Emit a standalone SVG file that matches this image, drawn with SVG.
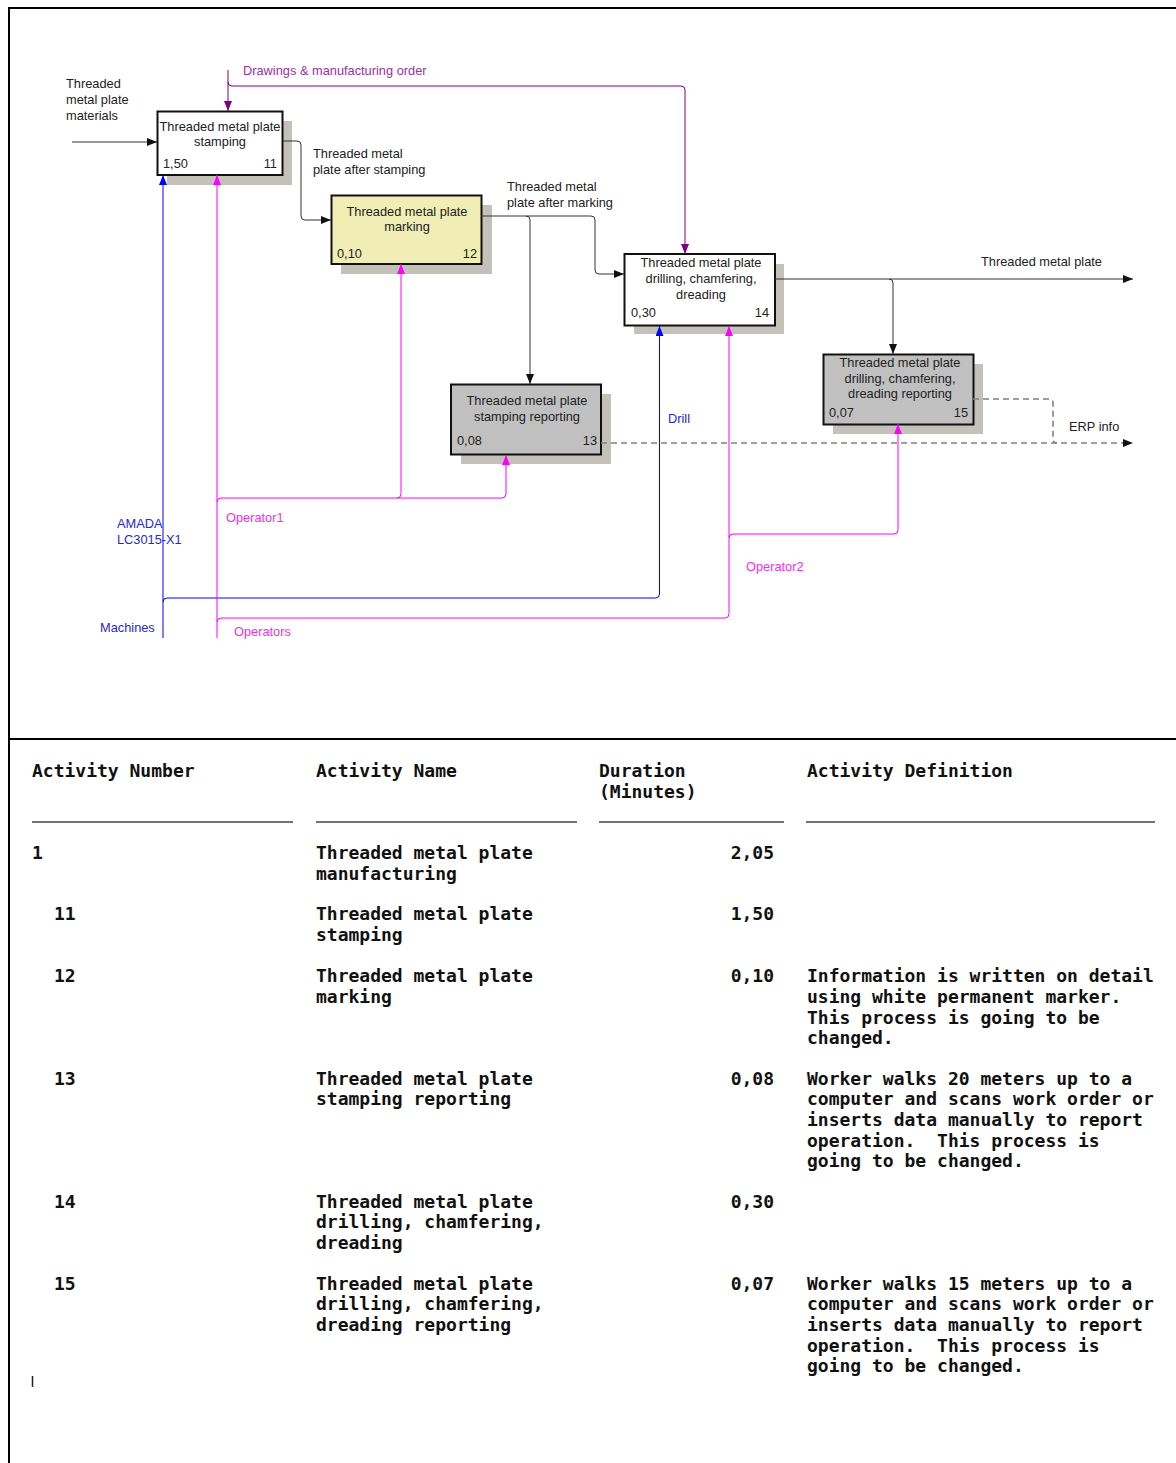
<svg xmlns="http://www.w3.org/2000/svg" width="1176" height="1463" viewBox="0 0 1176 1463">
  <style>
    .lbl { font-family: "Liberation Sans", Arial, sans-serif; font-size: 12.8px; fill: #222; }
    .mid { text-anchor: middle; }
    .end { text-anchor: end; }
    .purple { fill: #993399; }
    .blue { fill: #2828d0; }
    .mag { fill: #f030f0; }
    .box { stroke: #111; stroke-width: 2; }
    .shadow { fill: #c4c0ba; }
    .flow { fill: none; stroke: #333; stroke-width: 1; }
    .ctl { fill: none; stroke: #800080; stroke-width: 1; }
    .mech { fill: none; stroke: #0000ff; stroke-width: 1; }
    .op { fill: none; stroke: #ff00ff; stroke-width: 1; }
    .dash { fill: none; stroke: #808080; stroke-width: 1.6; stroke-dasharray: 6 4; }
    .tbl { font-family: "DejaVu Sans Mono", "Liberation Mono", monospace; font-weight: bold; font-size: 18px; fill: #111; }
    .rule { stroke: #444; stroke-width: 1.6; }
  </style>
  <defs>
    <marker id="arBlack" markerUnits="userSpaceOnUse" markerWidth="10" markerHeight="8" refX="10" refY="4" orient="auto"><path d="M0,0 L10,4 L0,8 z" fill="#111"/></marker>
    <marker id="arPurple" markerUnits="userSpaceOnUse" markerWidth="10" markerHeight="8" refX="10" refY="4" orient="auto"><path d="M0,0 L10,4 L0,8 z" fill="#800080"/></marker>
    <marker id="arBlue" markerUnits="userSpaceOnUse" markerWidth="10" markerHeight="8" refX="10" refY="4" orient="auto"><path d="M0,0 L10,4 L0,8 z" fill="#0000ff"/></marker>
    <marker id="arMag" markerUnits="userSpaceOnUse" markerWidth="10" markerHeight="8" refX="10" refY="4" orient="auto"><path d="M0,0 L10,4 L0,8 z" fill="#ff00ff"/></marker>
  </defs>

  <rect width="1176" height="1463" fill="#fff"/>

  <!-- page frame and separator -->
  <g id="frame" stroke="#000" stroke-width="2" fill="none">
    <path d="M9,1463 V8 H1176"/>
    <path d="M9,739 H1176"/>
  </g>

  <!-- activity 11 -->
  <g id="a11">
    <rect class="shadow" x="167" y="121" width="125" height="64"/>
    <rect class="box" x="157.5" y="111.5" width="125" height="63.5" fill="#fff"/>
    <text class="lbl mid" x="220" y="131">Threaded metal plate</text>
    <text class="lbl mid" x="220" y="146">stamping</text>
    <text class="lbl" x="163" y="168">1,50</text>
    <text class="lbl end" x="277" y="168">11</text>
  </g>

  <!-- activity 12 -->
  <g id="a12">
    <rect class="shadow" x="341" y="205" width="151" height="69"/>
    <rect class="box" x="331.5" y="195.5" width="150" height="68.5" fill="#f0eeb4"/>
    <text class="lbl mid" x="407" y="216">Threaded metal plate</text>
    <text class="lbl mid" x="407" y="231">marking</text>
    <text class="lbl" x="337" y="258">0,10</text>
    <text class="lbl end" x="477" y="258">12</text>
  </g>

  <!-- activity 14 -->
  <g id="a14">
    <rect class="shadow" x="634" y="264" width="150" height="70"/>
    <rect class="box" x="624.5" y="254" width="150.5" height="71.5" fill="#fff"/>
    <text class="lbl mid" x="701" y="267">Threaded metal plate</text>
    <text class="lbl mid" x="701" y="283">drilling, chamfering,</text>
    <text class="lbl mid" x="701" y="299">dreading</text>
    <text class="lbl" x="631" y="317">0,30</text>
    <text class="lbl end" x="769" y="317">14</text>
  </g>

  <!-- activity 13 -->
  <g id="a13">
    <rect class="shadow" x="461" y="394" width="150" height="70"/>
    <rect class="box" x="451" y="384.5" width="150" height="70" fill="#c0c0c0"/>
    <text class="lbl mid" x="527" y="405">Threaded metal plate</text>
    <text class="lbl mid" x="527" y="421">stamping reporting</text>
    <text class="lbl" x="457" y="445">0,08</text>
    <text class="lbl end" x="597" y="445">13</text>
  </g>

  <!-- activity 15 -->
  <g id="a15">
    <rect class="shadow" x="833" y="364" width="150" height="70"/>
    <rect class="box" x="823.5" y="354.5" width="150" height="70" fill="#c0c0c0"/>
    <text class="lbl mid" x="900" y="367">Threaded metal plate</text>
    <text class="lbl mid" x="900" y="383">drilling, chamfering,</text>
    <text class="lbl mid" x="900" y="398">dreading reporting</text>
    <text class="lbl" x="829" y="417">0,07</text>
    <text class="lbl end" x="968" y="417">15</text>
  </g>

  <!-- connectors (drawn over the box shadows) -->
  <g id="connectors">
    <!-- input -->
    <path class="flow" d="M72,142 H157" marker-end="url(#arBlack)"/>
    <!-- controls -->
    <path class="ctl" d="M228,70 V111" marker-end="url(#arPurple)"/>
    <path class="ctl" d="M228,82 Q228,86 232,86 H681 Q685,86 685,90 V254" marker-end="url(#arPurple)"/>
    <!-- outputs -->
    <path class="flow" d="M283,141 H297 Q301,141 301,145 V216 Q301,220 305,220 H331" marker-end="url(#arBlack)"/>
    <path class="flow" d="M481,216 H591 Q595,216 595,220 V270 Q595,274 599,274 H624" marker-end="url(#arBlack)"/>
    <path class="flow" d="M526,216 Q530,216 530,220 V384" marker-end="url(#arBlack)"/>
    <path class="flow" d="M775,279 H1133" marker-end="url(#arBlack)"/>
    <path class="flow" d="M889,279 Q893,279 893,283 V354" marker-end="url(#arBlack)"/>
    <path class="dash" d="M601,443 H1125"/>
    <path class="dash" d="M973,399 H1049 Q1053,399 1053,403 V439 Q1053,443 1057,443"/>
    <path d="M1123,439 L1133,443 L1123,447 z" fill="#111"/>
    <!-- mechanisms: machines -->
    <path class="mech" d="M163,638 V175" marker-end="url(#arBlue)"/>
    <path class="mech" d="M163,602 Q163,598 167,598 H655.5 Q659.5,598 659.5,594 V326" marker-end="url(#arBlue)"/>
    <!-- mechanisms: operators -->
    <path class="op" d="M217,638 V175" marker-end="url(#arMag)"/>
    <path class="op" d="M217,502 Q217,498 221,498 H502 Q506,498 506,494 V455" marker-end="url(#arMag)"/>
    <path class="op" d="M397,498 Q401,498 401,494 V264" marker-end="url(#arMag)"/>
    <path class="op" d="M217,622 Q217,618 221,618 H725 Q729,618 729,614 V326" marker-end="url(#arMag)"/>
    <path class="op" d="M729,538 Q729,534 733,534 H894 Q898,534 898,530 V424" marker-end="url(#arMag)"/>
  </g>

  <!-- connector labels -->
  <g id="labels">
    <text class="lbl" x="66" y="88">Threaded</text>
    <text class="lbl" x="66" y="104">metal plate</text>
    <text class="lbl" x="66" y="120">materials</text>
    <text class="lbl purple" x="243" y="75">Drawings &amp; manufacturing order</text>
    <text class="lbl" x="313" y="158">Threaded metal</text>
    <text class="lbl" x="313" y="174">plate after stamping</text>
    <text class="lbl" x="507" y="191">Threaded metal</text>
    <text class="lbl" x="507" y="207">plate after marking</text>
    <text class="lbl" x="981" y="266">Threaded metal plate</text>
    <text class="lbl" x="1069" y="431">ERP info</text>
    <text class="lbl blue" x="668" y="423">Drill</text>
    <text class="lbl blue" x="117" y="528">AMADA</text>
    <text class="lbl blue" x="117" y="544">LC3015-X1</text>
    <text class="lbl blue" x="100" y="632">Machines</text>
    <text class="lbl mag" x="226" y="522">Operator1</text>
    <text class="lbl mag" x="746" y="571">Operator2</text>
    <text class="lbl mag" x="234" y="636">Operators</text>
  </g>

  <!-- activity table -->
  <g id="table">
    <text class="tbl" x="32" y="777">Activity Number</text>
    <text class="tbl" x="316" y="777">Activity Name</text>
    <text class="tbl" x="599" y="777">Duration</text>
    <text class="tbl" x="599" y="798">(Minutes)</text>
    <text class="tbl" x="807" y="777">Activity Definition</text>
    <line class="rule" x1="32" y1="822" x2="293" y2="822"/>
    <line class="rule" x1="316" y1="822" x2="577" y2="822"/>
    <line class="rule" x1="599" y1="822" x2="784" y2="822"/>
    <line class="rule" x1="806" y1="822" x2="1155" y2="822"/>

    <text class="tbl" x="32" y="859">1</text>
    <text class="tbl" x="316" y="859">Threaded metal plate</text>
    <text class="tbl" x="316" y="880">manufacturing</text>
    <text class="tbl end" x="774" y="859">2,05</text>

    <text class="tbl" x="54" y="920">11</text>
    <text class="tbl" x="316" y="920">Threaded metal plate</text>
    <text class="tbl" x="316" y="941">stamping</text>
    <text class="tbl end" x="774" y="920">1,50</text>

    <text class="tbl" x="54" y="982">12</text>
    <text class="tbl" x="316" y="982">Threaded metal plate</text>
    <text class="tbl" x="316" y="1003">marking</text>
    <text class="tbl end" x="774" y="982">0,10</text>
    <text class="tbl" x="807" y="982">Information is written on detail</text>
    <text class="tbl" x="807" y="1003">using white permanent marker.</text>
    <text class="tbl" x="807" y="1024">This process is going to be</text>
    <text class="tbl" x="807" y="1044">changed.</text>

    <text class="tbl" x="54" y="1085">13</text>
    <text class="tbl" x="316" y="1085">Threaded metal plate</text>
    <text class="tbl" x="316" y="1105">stamping reporting</text>
    <text class="tbl end" x="774" y="1085">0,08</text>
    <text class="tbl" x="807" y="1085">Worker walks 20 meters up to a</text>
    <text class="tbl" x="807" y="1105">computer and scans work order or</text>
    <text class="tbl" x="807" y="1126">inserts data manually to report</text>
    <text class="tbl" x="807" y="1147" xml:space="preserve">operation.  This process is</text>
    <text class="tbl" x="807" y="1167">going to be changed.</text>

    <text class="tbl" x="54" y="1208">14</text>
    <text class="tbl" x="316" y="1208">Threaded metal plate</text>
    <text class="tbl" x="316" y="1228">drilling, chamfering,</text>
    <text class="tbl" x="316" y="1249">dreading</text>
    <text class="tbl end" x="774" y="1208">0,30</text>

    <text class="tbl" x="54" y="1290">15</text>
    <text class="tbl" x="316" y="1290">Threaded metal plate</text>
    <text class="tbl" x="316" y="1310">drilling, chamfering,</text>
    <text class="tbl" x="316" y="1331">dreading reporting</text>
    <text class="tbl end" x="774" y="1290">0,07</text>
    <text class="tbl" x="807" y="1290">Worker walks 15 meters up to a</text>
    <text class="tbl" x="807" y="1310">computer and scans work order or</text>
    <text class="tbl" x="807" y="1331">inserts data manually to report</text>
    <text class="tbl" x="807" y="1352" xml:space="preserve">operation.  This process is</text>
    <text class="tbl" x="807" y="1372">going to be changed.</text>

    <line x1="32.5" y1="1376" x2="32.5" y2="1387" stroke="#222" stroke-width="1.5"/>
  </g>
</svg>
